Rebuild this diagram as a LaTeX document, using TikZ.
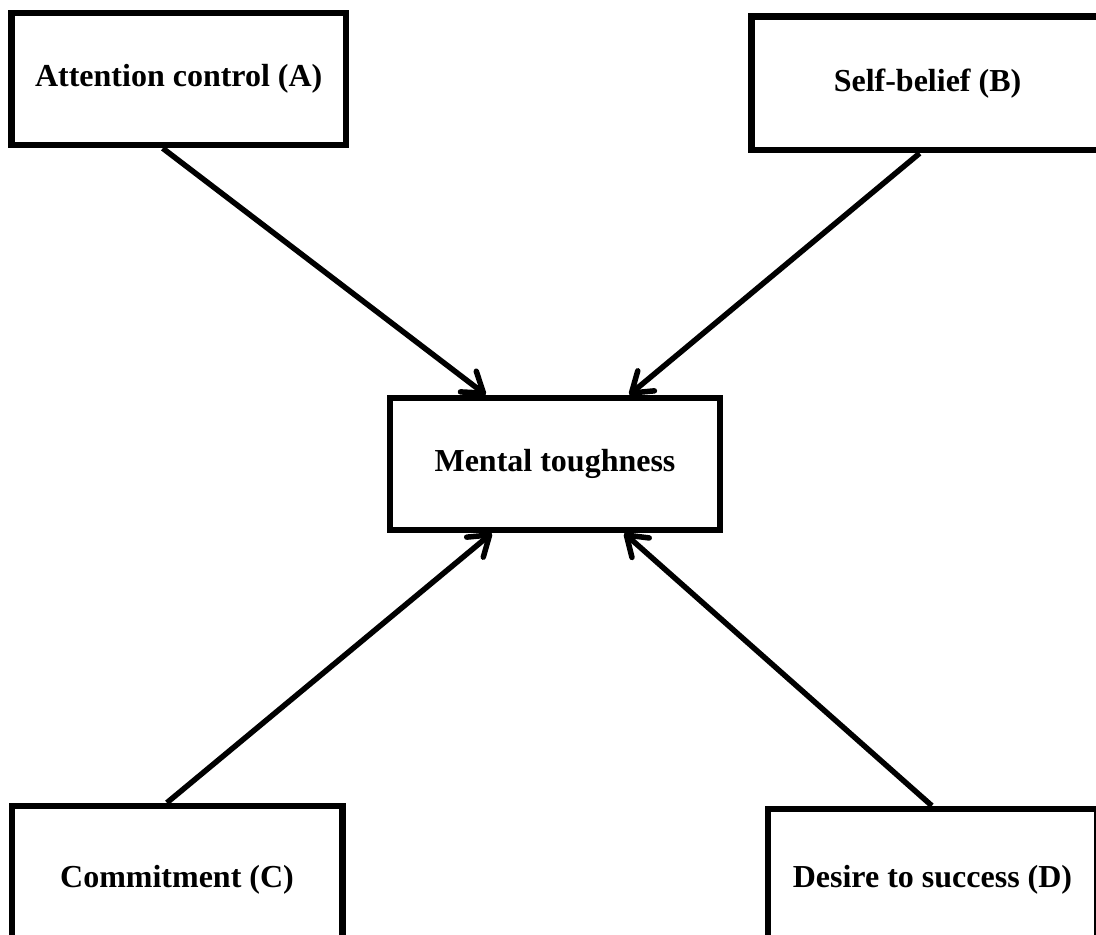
\documentclass[tikz,border=0pt]{standalone}
\usepackage{fontspec}
\setmainfont{Liberation Serif}
\usetikzlibrary{arrows.meta,calc}
\begin{document}
\begin{tikzpicture}[x=1pt,y=-1pt,
  box/.style={draw=black,line width=6.5pt,fill=white,inner sep=0pt,
    font=\fontsize{32}{38}\selectfont\bfseries,align=center},
  link/.style={line width=5.5pt,-{Straight Barb[length=19pt,width=26pt,round]}}]
\useasboundingbox (0,0) rectangle (1096,935);
\clip (0,0) rectangle (1096,935);
\node[box,minimum width=334.5pt,minimum height=132pt] (A) at (178.75,79) {Attention control (A)};
\node[box,minimum width=352pt,minimum height=133.5pt] (B) at (927.5,83.25) {Self-belief (B)};
\node[box,minimum width=330pt,minimum height=132pt] (M) at (555,464) {Mental toughness};
\node[box,minimum width=330.5pt,minimum height=148pt] (C) at (177,880) {Commitment (C)};
\node[box,minimum width=329pt,minimum height=142pt] (D) at (932.5,880) {Desire to success (D)};
\draw[link] ($(A.south west)!0.453!(A.south east)$) -- ($(M.north west)!0.294!(M.north east)$);
\draw[link] ($(B.south west)!0.478!(B.south east)$) -- ($(M.north west)!0.721!(M.north east)$);
\draw[link] ($(C.north west)!0.47!(C.north east)$) -- ($(M.south west)!0.312!(M.south east)$);
\draw[link] ($(D.north west)!0.498!(D.north east)$) -- ($(M.south west)!0.706!(M.south east)$);
\end{tikzpicture}
\end{document}
